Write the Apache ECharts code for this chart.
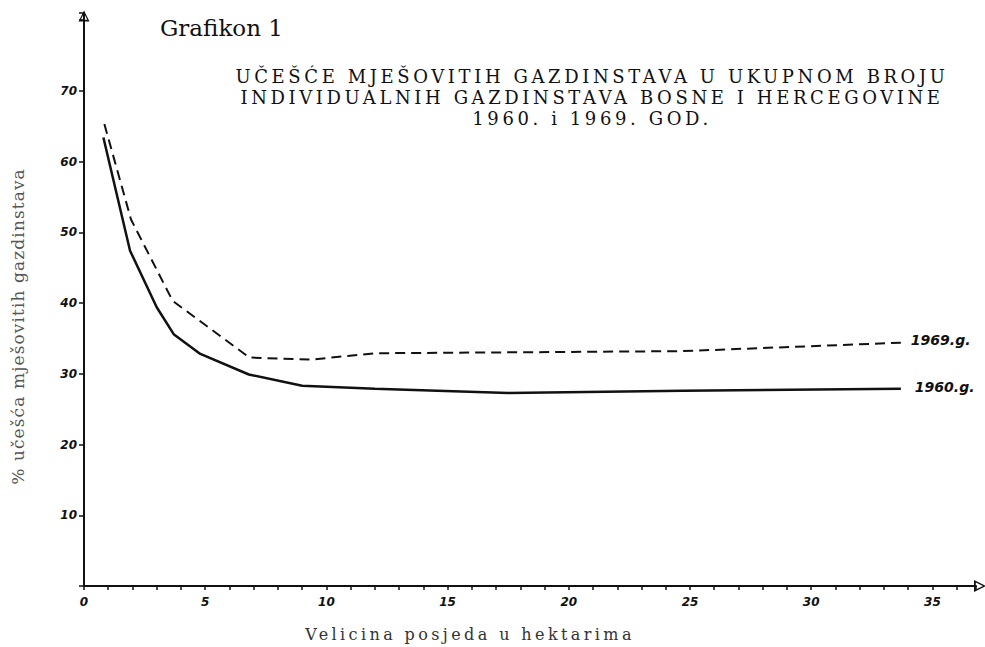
<!DOCTYPE html>
<html>
<head>
<meta charset="utf-8">
<script src="https://cdn.jsdelivr.net/npm/echarts@6/dist/echarts.min.js"></script>
<style>
  html, body { margin: 0; padding: 0; background: #fff; }
  #chart { width: 985px; height: 647px; }
  /* razmak slova kao u originalu (svg tekst) */
  #chart text[style*="18px"] { letter-spacing: 3.6px; }
  #chart text[style*="16px"] { letter-spacing: 3.4px; }
  #chart text[style*="17px"] { letter-spacing: 1.1px; }
</style>
</head>
<body>
<div id="chart"></div>
<script>
// velicina posjeda (ha) i % ucesca, ocitano sa grafikona
var x1960 = [0.8, 1.9, 3.0, 3.7, 4.8, 6.8, 9.0, 12.0, 17.5, 24.7, 33.7]
var y1960 = [63.4, 47.4, 39.4, 35.6, 32.8, 29.9, 28.3, 27.9, 27.3, 27.6, 27.9]
var x1969 = [0.84, 1.94, 3.66, 6.82, 9.36, 12.0, 24.7, 33.7]
var y1969 = [65.3, 51.8, 40.3, 32.3, 32.0, 32.9, 33.2, 34.4]
var seriesNames = ['1960.g.', '1969.g.']

function pairs(xs, ys) {
  return xs.map(function (x, i) { return [x, ys[i]] })
}

// otvorena strelica na kraju osa
var openArrow = 'path://M0,0 L10,20 L-10,20 Z M0,5 L-6,17 L6,17 Z'
var digitFont = { fontFamily: 'DejaVu Sans', fontStyle: 'italic', fontWeight: 'bold', fontSize: 12, color: '#111' }

var chart = echarts.init(document.getElementById('chart'), null, { renderer: 'svg' })
chart.setOption({
  backgroundColor: '#fff',
  animation: false,
  title: [{
    text: 'Grafikon 1',
    left: 160, top: 16, padding: 0,
    textStyle: { fontFamily: 'DejaVu Serif', fontWeight: 'normal', fontSize: 23, color: '#111' }
  }, {
    text: 'UČEŠĆE MJEŠOVITIH GAZDINSTAVA U UKUPNOM BROJU\nINDIVIDUALNIH GAZDINSTAVA BOSNE I HERCEGOVINE\n1960. i 1969. GOD.',
    left: 592, top: 66, padding: 0,
    textAlign: 'center',
    textStyle: { fontFamily: 'DejaVu Serif', fontWeight: 'normal', fontSize: 18, lineHeight: 21, color: '#111' }
  }],
  grid: { left: 84, right: 9, top: 13, bottom: 61 },
  xAxis: {
    type: 'value',
    min: 0, max: 36.8, interval: 1,
    name: 'Velicina posjeda u hektarima',
    nameLocation: 'middle',
    nameGap: 40,
    nameTextStyle: { fontFamily: 'DejaVu Serif', fontSize: 16, color: '#333', padding: [0, 120, 0, 0] },
    axisLine: { show: true, symbol: ['none', openArrow], symbolSize: [12, 12], symbolOffset: [0, 4], lineStyle: { color: '#111', width: 2 } },
    axisTick: { show: true, length: 4, lineStyle: { color: '#111', width: 1.5 } },
    axisLabel: {
      margin: 10,
      formatter: function (v) { return v % 5 === 0 ? String(v) : '' },
      fontFamily: digitFont.fontFamily, fontStyle: digitFont.fontStyle, fontWeight: digitFont.fontWeight,
      fontSize: digitFont.fontSize, color: digitFont.color
    },
    splitLine: { show: false }
  },
  yAxis: {
    type: 'value',
    min: 0, max: 81, interval: 10,
    name: '% učešća mješovitih gazdinstava',
    nameLocation: 'middle',
    nameGap: 58,
    nameRotate: 90,
    nameTextStyle: { fontFamily: 'DejaVu Serif', fontSize: 17, color: '#555', padding: [0, 54, 0, 0] },
    axisLine: { show: true, symbol: ['none', openArrow], symbolSize: [11, 13], symbolOffset: [0, -3], lineStyle: { color: '#111', width: 2 } },
    axisTick: { show: true, length: 5, lineStyle: { color: '#111', width: 1.5 } },
    axisLabel: {
      margin: 7,
      formatter: function (v) { return v > 0 && v <= 70 ? String(v) : '' },
      fontFamily: digitFont.fontFamily, fontStyle: digitFont.fontStyle, fontWeight: digitFont.fontWeight,
      fontSize: digitFont.fontSize, color: digitFont.color
    },
    splitLine: { show: false }
  },
  series: [{
    name: seriesNames[0],
    type: 'line',
    data: pairs(x1960, y1960),
    showSymbol: false,
    lineStyle: { color: '#111', width: 2.5 },
    endLabel: {
      show: true, formatter: seriesNames[0], distance: 14, offset: [0, -2],
      fontFamily: digitFont.fontFamily, fontStyle: 'italic', fontWeight: 'bold', fontSize: 14, color: '#111'
    }
  }, {
    name: seriesNames[1],
    type: 'line',
    data: pairs(x1969, y1969),
    showSymbol: false,
    lineStyle: { color: '#111', width: 2, type: [10, 6] },
    endLabel: {
      show: true, formatter: seriesNames[1], distance: 10, offset: [0, -3],
      fontFamily: digitFont.fontFamily, fontStyle: 'italic', fontWeight: 'bold', fontSize: 14, color: '#111'
    }
  }]
})
</script>
</body>
</html>
